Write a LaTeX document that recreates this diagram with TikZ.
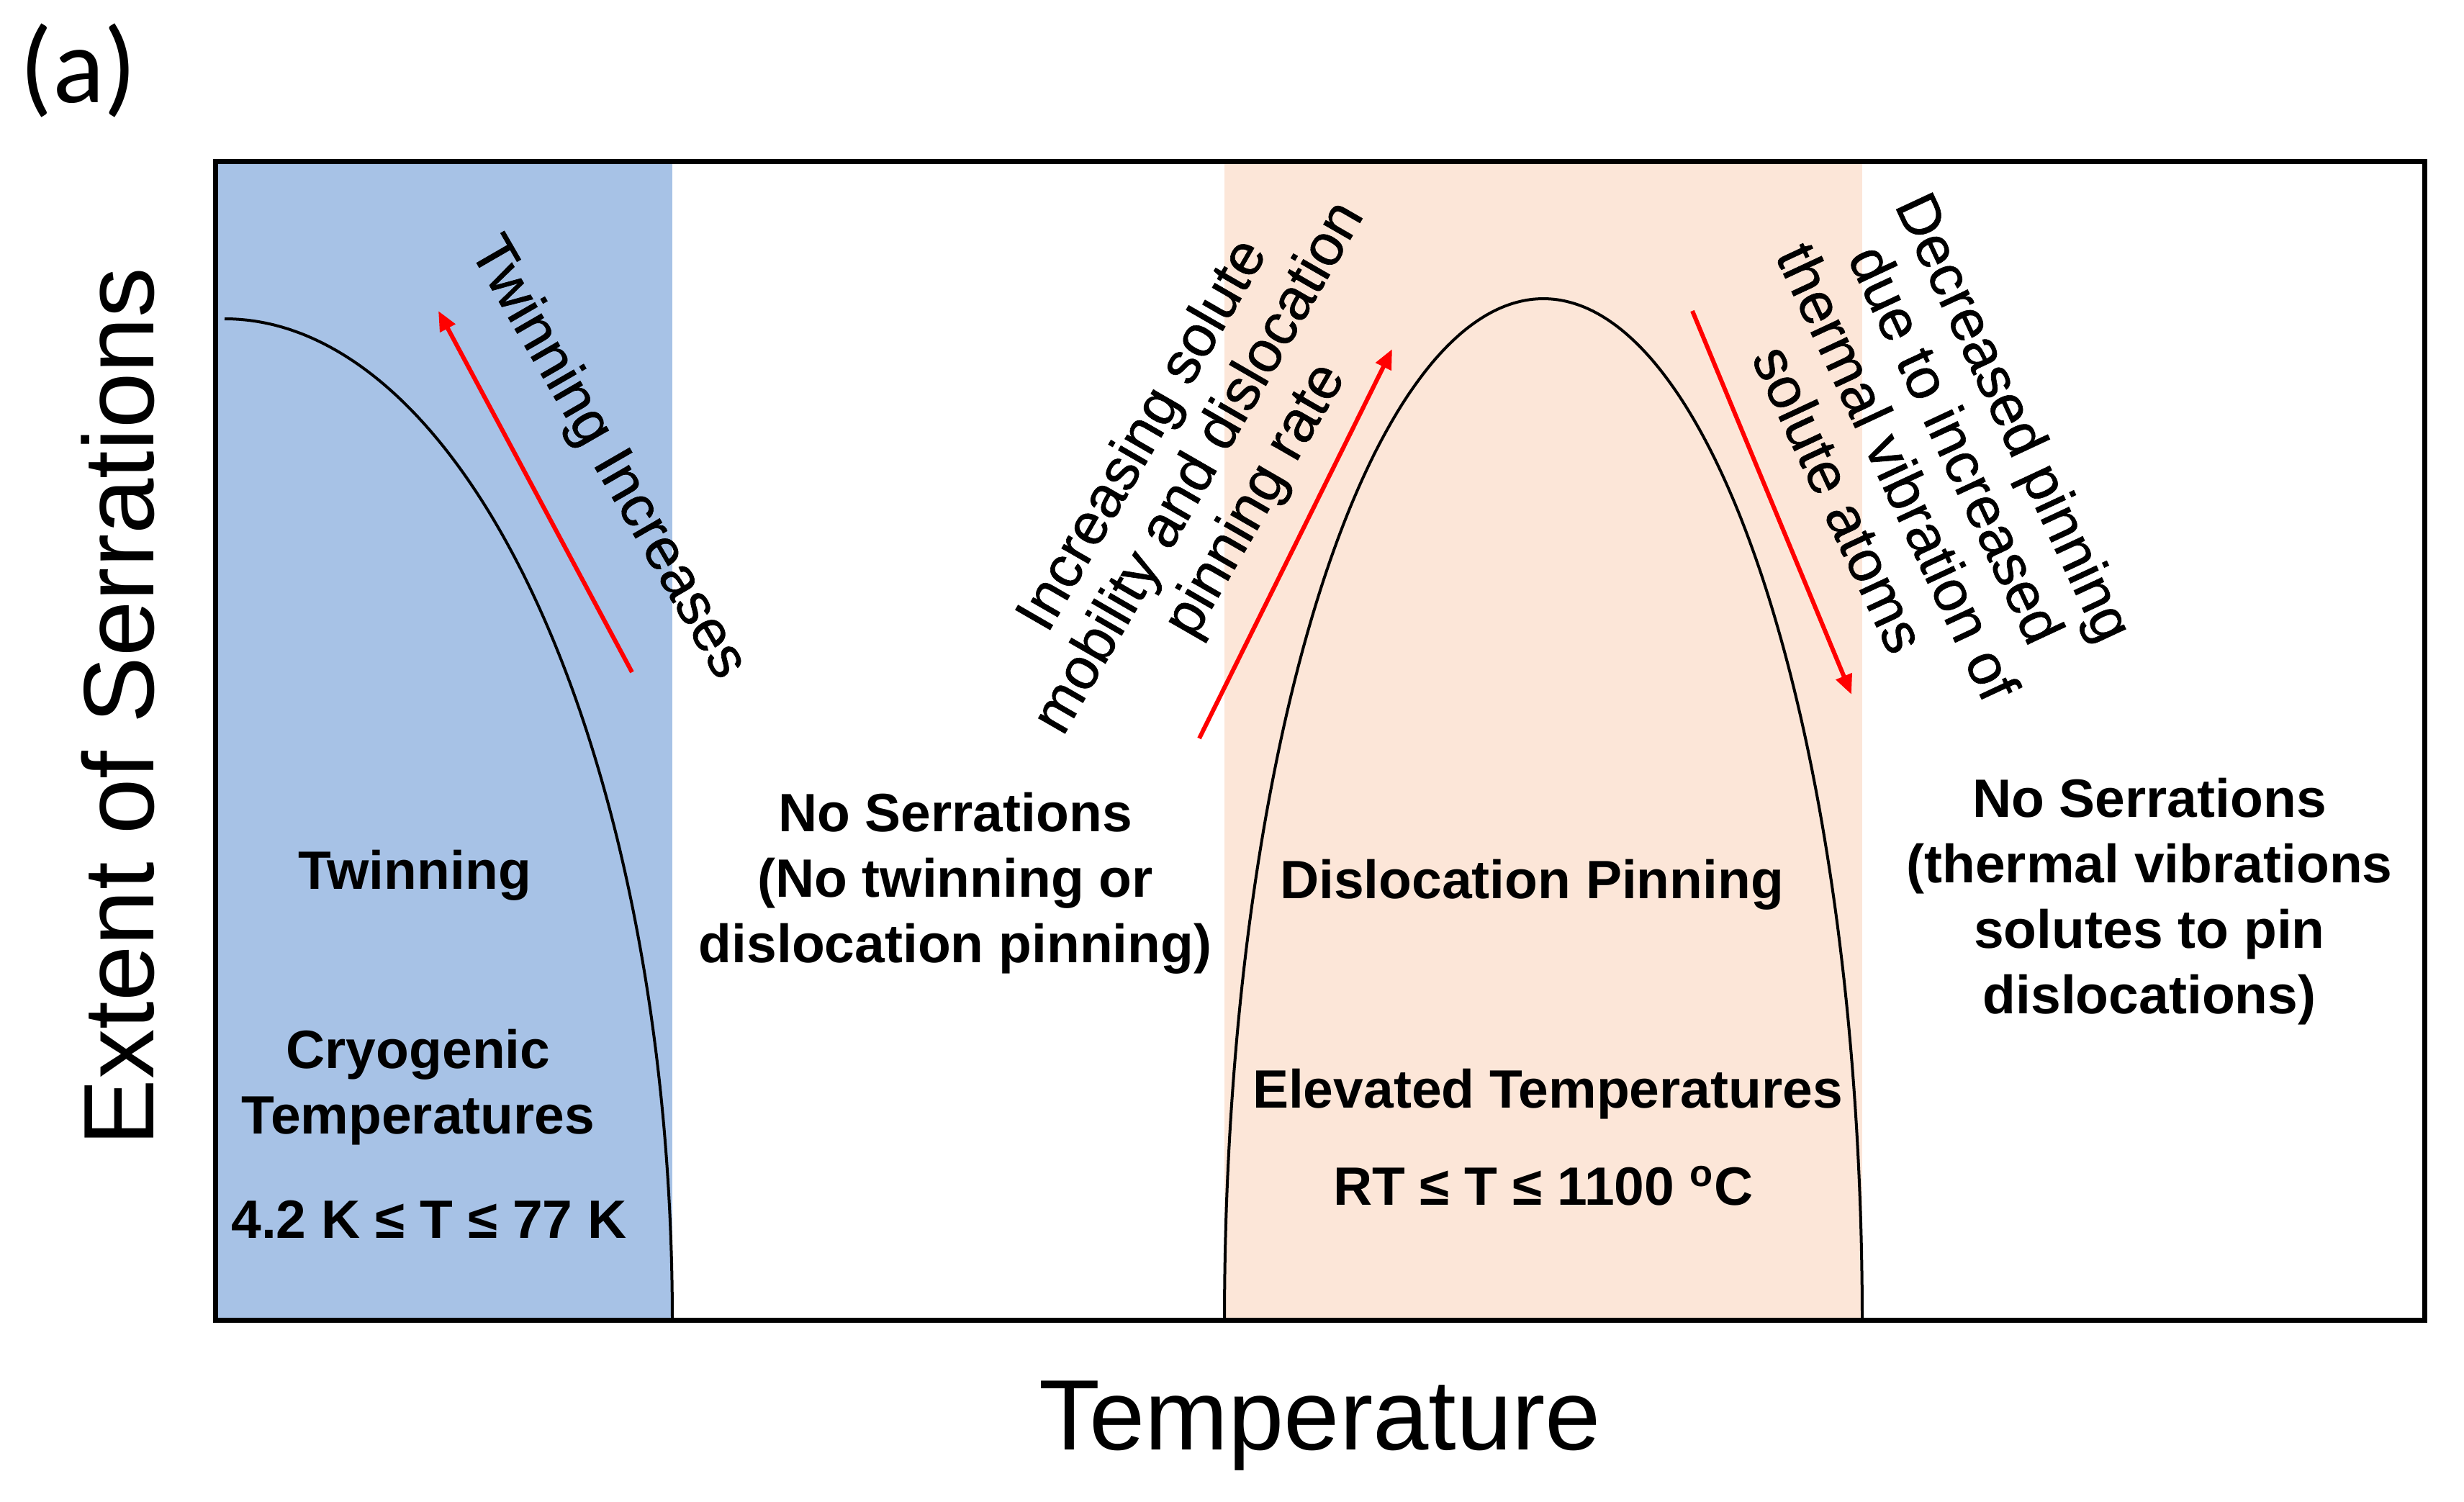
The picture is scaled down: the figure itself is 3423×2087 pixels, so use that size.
\documentclass[tikz,border=0pt]{standalone}
\usepackage{fontspec}
\setmainfont{Liberation Sans}
\newfontfamily\calibrifont{Carlito}
\newfontfamily\notefont{Liberation Sans}[FakeBold=0.8]
\usetikzlibrary{arrows.meta}
\definecolor{cryoblue}{RGB}{167,194,230}
\definecolor{peach}{RGB}{252,230,216}
\definecolor{arrowred}{RGB}{255,0,0}
\begin{document}
\begin{tikzpicture}[x=0.2pt,y=-0.2pt,
  region/.style={font=\fontsize{15}{18.2}\selectfont\bfseries, align=center, inner sep=0pt},
  note/.style={font=\notefont\fontsize{16.2}{18}\selectfont, align=center, inner sep=0pt},
  axislabel/.style={font=\fontsize{27.8}{33}\selectfont, inner sep=0pt},
  trend/.style={draw=arrowred, line width=1.2pt, -{Triangle[length=5.5pt,width=4.6pt]}},
  curve/.style={draw=black, line width=0.8pt}]
\useasboundingbox (0,0) rectangle (3423,2087);
% regions
\fill[cryoblue] (299,225) rectangle (934,1834);
\fill[peach] (1701,225) rectangle (2587,1834);
% curves
\draw[curve] plot[domain=0:90, samples=90, smooth] ({312+622*cos(\x)},{1834-1391*sin(\x)});
\draw[curve] plot[domain=0:180, samples=150, smooth] ({2144+443*cos(\x)},{1834-1419*sin(\x)});
% frame
\draw[line width=1.4pt] (299,225) rectangle (3368,1834);
% arrows
\coordinate (a1s) at (878,934);
\coordinate (a1e) at (609,432);
\coordinate (a2s) at (1666,1026);
\coordinate (a2e) at (1934,485);
\coordinate (a3s) at (2351,432);
\coordinate (a3e) at (2572,965);
\draw[trend] (a1s) -- (a1e);
\draw[trend] (a2s) -- (a2e);
\draw[trend] (a3s) -- (a3e);
% labels
\node[font=\fontsize{30}{35}\selectfont\calibrifont, inner sep=0pt] (panel) at (109,98) {(a)};
\node[axislabel, rotate=90] (ylab) at (164,982) {Extent of Serrations};
\node[axislabel] (xlab) at (1834,1981) {Temperature};
\node[region] (twin) at (576,1216) {Twinning};
\node[region] (cryo) at (581,1511) {Cryogenic\\Temperatures};
\node[region] (cryoT) at (596,1694) {4.2 K ≤ T ≤ 77 K};
\node[region] (nos1) at (1327,1227) {No Serrations\\(No twinning or\\dislocation pinning)};
\node[region] (dpin) at (2128,1229) {Dislocation Pinning};
\node[region] (elev) at (2150,1520) {Elevated Temperatures};
\node[region] (elevT) at (2144,1648) {RT ≤ T ≤ 1100 \textsuperscript{o}C};
\node[region] (nos2) at (2986,1253) {No Serrations\\(thermal vibrations\\solutes to pin\\dislocations)};
\node[note, rotate=-60] (twinup) at (843,637) {Twinning Increases};
\node[note, rotate=60] (incr) at (1668,651) {Increasing solute\\mobility and dislocation\\pinning rate};
\node[note, rotate=-65] (decr) at (2678,636) {Decreased pinning\\due to increased\\thermal vibration of\\solute atoms};
\end{tikzpicture}
\end{document}
